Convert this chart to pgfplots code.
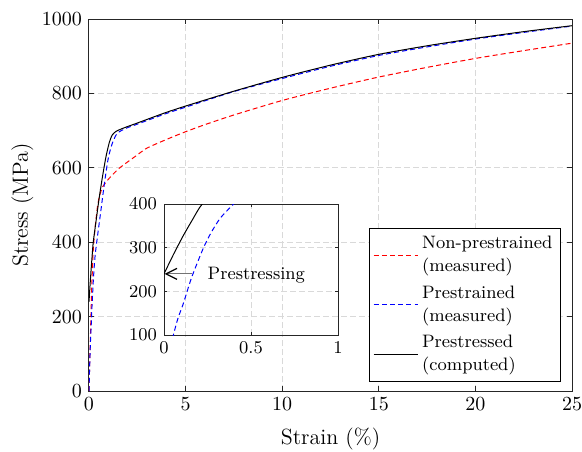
\documentclass[border=0pt]{standalone}
\usepackage{fontspec}
\usepackage{pgfplots}
\pgfplotsset{compat=1.18}
\usepackage{pgfplotstable}
\usetikzlibrary{arrows.meta}

\pgfplotstableread{
x y
0 0
0.05 100
0.1 200
0.15 290
0.22 379
0.3 430
0.36 460
0.45 500
0.55 525
0.71 549
1.05 572
1.57 599
2.43 632
3.0 653
4.0 676
5.0 697
6.0 716
7.5 742
10 781
12.5 814
15 844
17.5 870
20 894
22.5 915
25 935
}\redtab

\pgfplotstableread{
x y
0 0
0.025 50
0.054 100
0.08 138
0.111 172
0.159 232
0.226 299
0.27 334
0.322 367
0.38 392
0.45 420
0.62 487
0.79 555
0.97 618
1.1 648
1.22 668
1.4 688
1.57 697
2.0 708
2.43 716
3.0 727
4.0 746
5.0 763
7.5 805
10 840
12.5 873
15 902
17.5 925
20 946
22.5 964
25 981
}\bluetab

\pgfplotstableread{
x y
0 240
0.055 285
0.11 327
0.165 365
0.22 400
0.36 455
0.53 520
0.71 580
0.88 630
1.05 668
1.2 688
1.4 698
1.7 705
2.0 711
2.43 719
3.0 730
4.0 749
5.0 766
7.5 806
10 843
12.5 876
15 905
17.5 928
20 948
22.5 966
25 982
}\blacktab

\begin{document}
\begin{tikzpicture}
\begin{axis}[
  name=main,
  scale only axis, width=241.5pt, height=186pt,
  xmin=0, xmax=25, ymin=0, ymax=1000,
  xtick={0,5,10,15,20,25}, ytick={0,200,400,600,800,1000},
  scaled ticks=false,
  /pgf/number format/1000 sep={},
  tick align=inside, major tick length=2.5pt,
  tick style={black!85, line width=0.5pt},
  axis line style={black!85, line width=0.5pt},
  grid=major,
  grid style={black!15, dash pattern=on 3pt off 1.5pt, line width=0.5pt},
  xlabel={Strain (\%)}, ylabel={Stress (MPa)},
  label style={font=\fontsize{11}{13}\selectfont},
  xlabel style={at={(axis description cs:0.5,-0.1425)}, anchor=base},
  ylabel style={at={(axis description cs:-0.1263,0.5)}, anchor=base},
  tick label style={font=\fontsize{10}{12}\selectfont},
  legend cell align=left,
  legend style={at={(0.977,0.024)}, anchor=south east, draw=black, fill=white,
    line width=0.5pt, font=\fontsize{9}{11.5}\selectfont, cells={align=left},
    row sep=1.5pt, inner sep=2pt},
  legend image code/.code={\draw[#1] (0pt,0pt) -- (22pt,0pt);},
]
\addplot[red, line width=0.5pt, dash pattern=on 2.5pt off 1.6pt, smooth, tension=0.4] table {\redtab};
\addlegendentry{Non-prestrained\\(measured)}
\addplot[blue, line width=0.5pt, dash pattern=on 2.5pt off 1.6pt, smooth, tension=0.4] table {\bluetab};
\addlegendentry{Prestrained\\(measured)}
\addplot[black, line width=0.5pt, smooth, tension=0.4] table {\blacktab};
\addlegendentry{Prestressed\\(computed)}
\coordinate (insetpos) at (axis cs:3.882,150.5);
\end{axis}
\begin{axis}[
  at={(insetpos)}, anchor=south west,
  scale only axis, width=87pt, height=65.5pt,
  xmin=0, xmax=1, ymin=100, ymax=400,
  xtick={0,0.5,1}, ytick={100,200,300,400},
  tick align=inside, major tick length=1.3pt,
  tick style={black!85, line width=0.5pt},
  axis line style={black!85, line width=0.5pt},
  grid=major,
  grid style={black!15, dash pattern=on 3pt off 1.5pt, line width=0.5pt},
  tick label style={font=\fontsize{9}{11}\selectfont},
  clip mode=individual,
]
\addplot[blue, line width=0.5pt, dash pattern=on 2.5pt off 1.6pt, smooth, tension=0.4] table {\bluetab};
\addplot[black, line width=0.5pt, smooth, tension=0.4] table {\blacktab};
\draw[black!55, line width=0.6pt, -{Straight Barb[black, length=5.5pt, width=5.5pt]}] (axis cs:0.16,240) -- (axis cs:0.004,240);
\node[anchor=base west, font=\fontsize{9}{11}\selectfont, inner sep=0pt] at (axis cs:0.249,227.5) {Prestressing};
\end{axis}
\path (main.south west) ++(-44.5pt,-30pt) coordinate (bbl);
\path (main.north east) ++(5pt,9.5pt) coordinate (btr);
\pgfresetboundingbox
\useasboundingbox (bbl) rectangle (btr);
\end{tikzpicture}
\end{document}
